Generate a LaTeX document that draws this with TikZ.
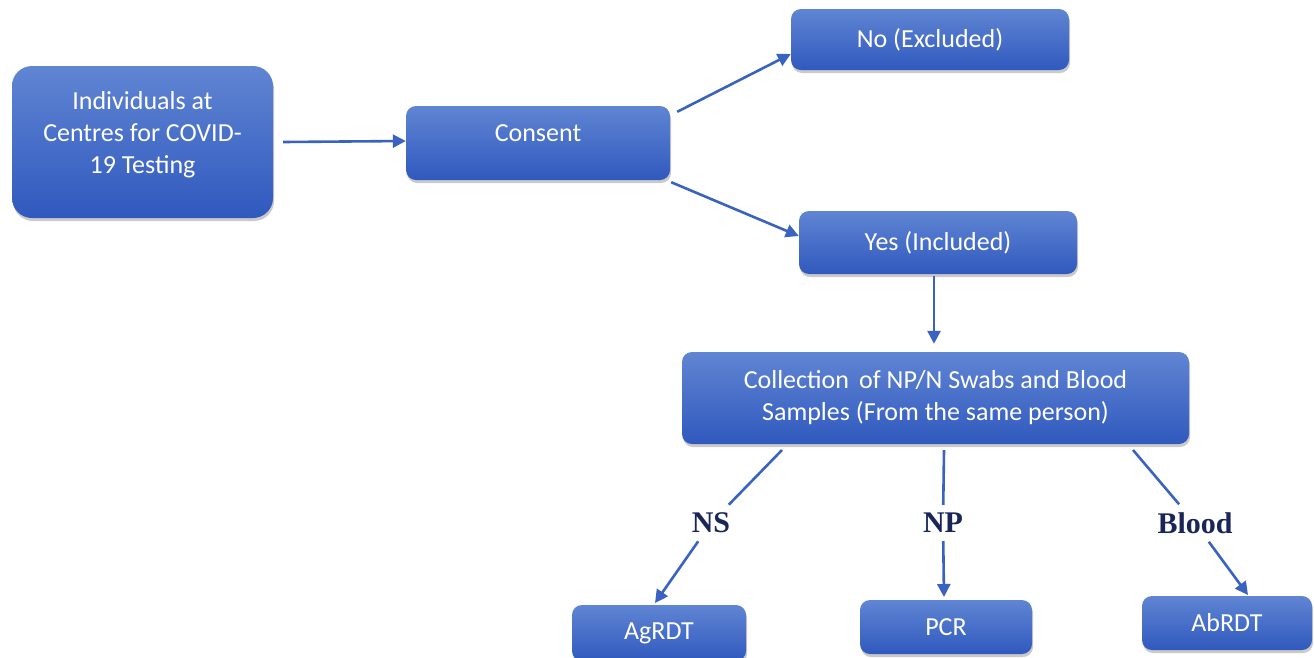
\documentclass[tikz,border=0pt]{standalone}
\usepackage{fontspec}
\setmainfont{Carlito}
\newfontfamily\labfont{Liberation Serif}
\usetikzlibrary{arrows.meta,shadows}
\definecolor{boxtop}{HTML}{6085D3}
\definecolor{boxbot}{HTML}{3059BE}
\definecolor{arrc}{HTML}{3A63C1}
\definecolor{labc}{HTML}{1B2658}
\tikzset{
  box/.style={rounded corners=10pt, top color=boxtop, bottom color=boxbot, draw=none,
    text=white, font=\fontsize{26}{32}\selectfont, align=center, inner sep=0pt,
    drop shadow={shadow xshift=1pt, shadow yshift=-3pt, opacity=0.35, fill=black!60}},
  bigbox/.style={box, rounded corners=20pt},
  arr/.style={draw=arrc, line width=2.6pt, -{Triangle[length=13pt,width=13pt]}},
  ln/.style={draw=arrc, line width=2.6pt},
  lab/.style={text=labc, font=\labfont\bfseries\fontsize{30}{32}\selectfont, inner sep=8pt}
}
\begin{document}
\begin{tikzpicture}[x=1pt,y=-1pt]
\useasboundingbox (0,0) rectangle (1314,657);
\node[bigbox, minimum width=261pt, minimum height=152pt] (ind) at (142.5,142) {Individuals at\\Centres for COVID-\\19 Testing\\[-12pt]};
\node[box, minimum width=264pt, minimum height=74pt] (consent) at (538,143) {Consent\\[-12pt]};
\node[box, minimum width=278pt, minimum height=61pt] (no) at (930,39.5) {No (Excluded)};
\node[box, minimum width=278pt, minimum height=63pt] (yes) at (938,242.5) {Yes (Included)};
\node[box, minimum width=507pt, minimum height=92pt] (coll) at (935.5,398) {Collection \,of NP/N Swabs and Blood\\Samples (From the same person)};
\node[box, minimum width=174pt, minimum height=56pt] (ag) at (659,633) {AgRDT};
\node[box, minimum width=172pt, minimum height=54pt] (pcr) at (946,627) {PCR};
\node[box, minimum width=170pt, minimum height=54pt] (ab) at (1227,623) {AbRDT};
\node[lab] (ns) at (711,523) {NS};
\node[lab] (np) at (943,523) {NP};
\node[lab] (blood) at (1195,523) {Blood};
\draw[arr] ([shift={(10,0)}]ind.east) -- ([shift={(0,-2)}]consent.west);
\draw[arr] ([shift={(7,6)}]consent.north east) -- ([shift={(0,14.5)}]no.west);
\draw[arr] ([shift={(1,2)}]consent.south east) -- ([shift={(0,-6.5)}]yes.west);
\draw[arr] ([shift={(-4,2)}]yes.south) -- ([shift={(-1.5,-8)}]coll.north);
\coordinate (c1) at (782,450);
\coordinate (c2) at (944,450);
\coordinate (c3) at (1133,450);
\coordinate (e1) at (655,603);
\coordinate (e2) at (944,597);
\coordinate (e3) at (1248,595);
\draw[ln] (c1) -- (ns);
\draw[ln] (c2) -- (np);
\draw[ln] (c3) -- (blood);
\draw[arr] (ns) -- (e1);
\draw[arr] (np) -- (e2);
\draw[arr] (blood) -- (e3);
\end{tikzpicture}
\end{document}
